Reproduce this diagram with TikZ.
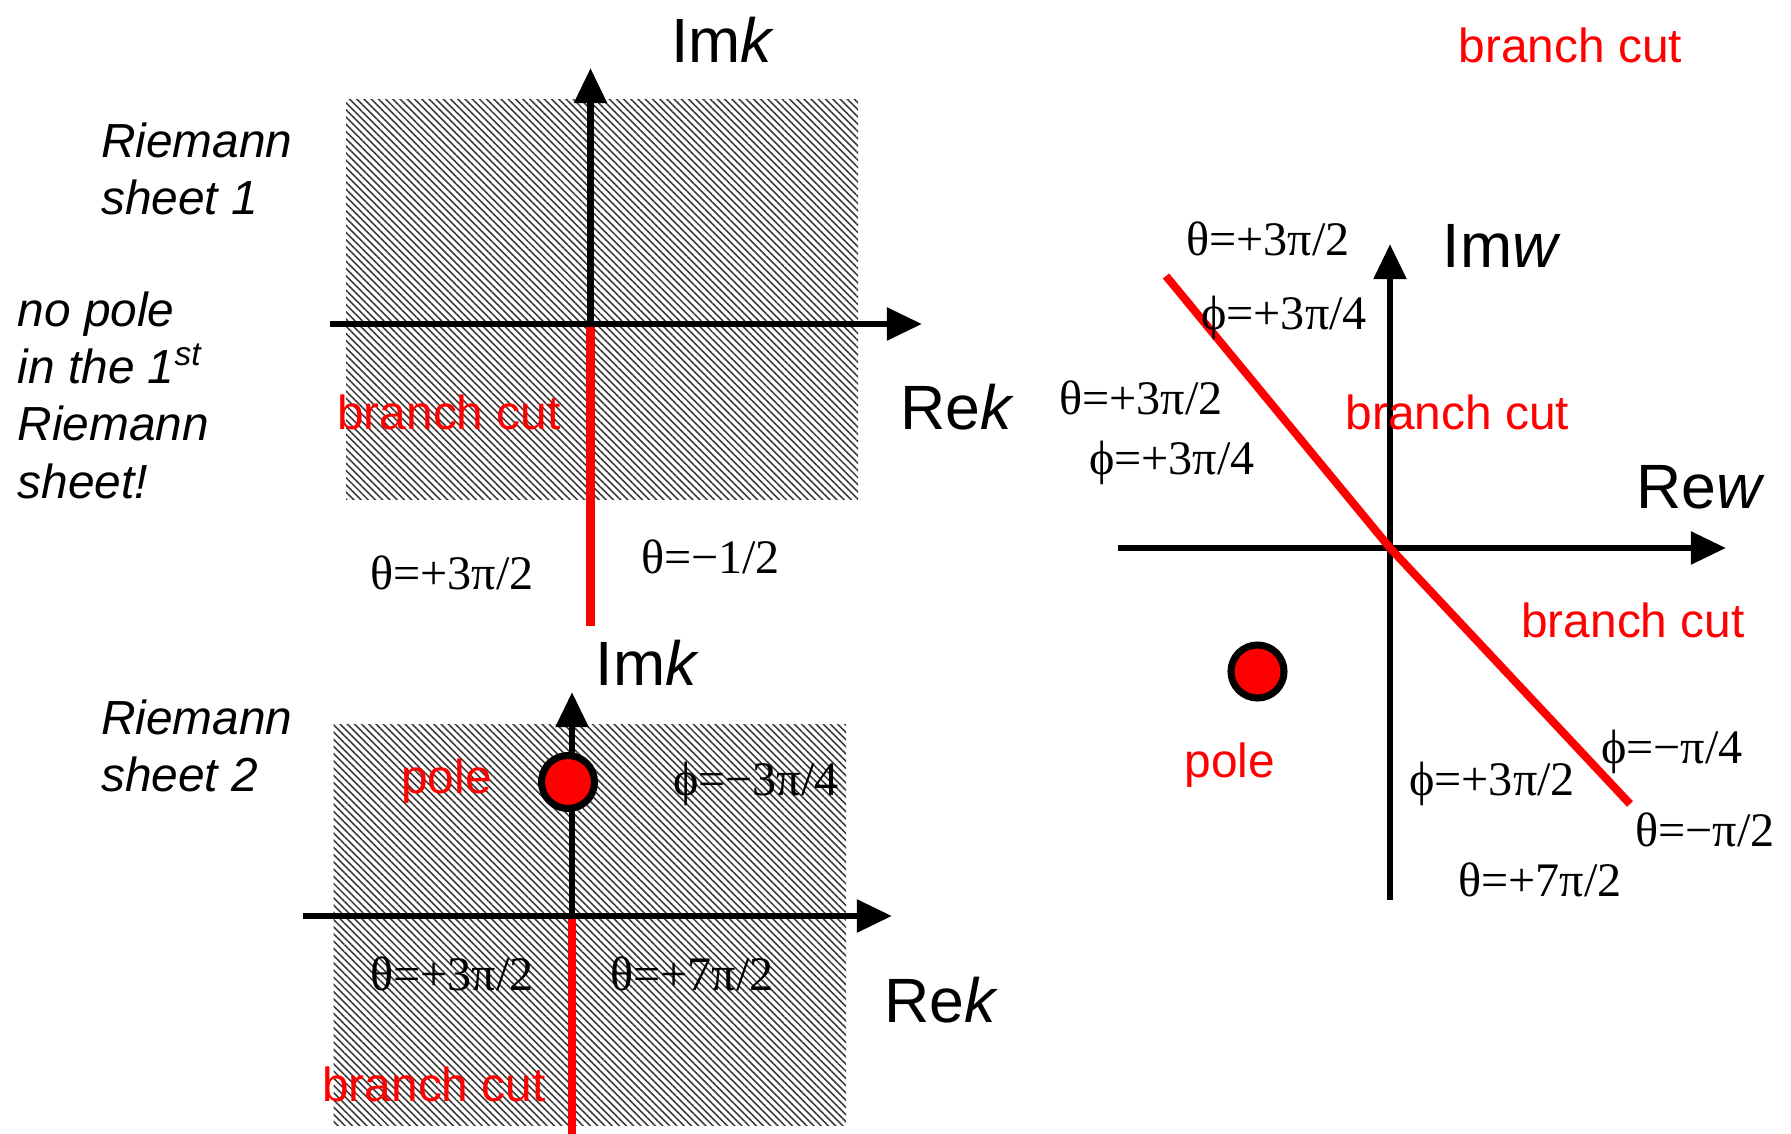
\documentclass[tikz,border=0pt]{standalone}
\usepackage{fontspec}
\setmainfont{Liberation Sans}
\newfontfamily\tnr{Liberation Serif}
\usepackage{tikz}
\usetikzlibrary{arrows.meta,patterns.meta}
\definecolor{CutRed}{HTML}{FF0000}
\definecolor{HatchInk}{HTML}{3C3C3C}

\begin{document}
\begin{tikzpicture}[x=0.01cm,y=-0.01cm,
  axis/.style={line width=1.9pt,-{Triangle[length=10pt,width=9pt]}},
  cut/.style={line width=2.3pt,draw=CutRed},
  hatch/.style={pattern={Lines[angle=-45,distance=1.45pt,line width=0.45pt]},pattern color=HatchInk},
  lbl/.style={inner sep=0pt,font=\fontsize{13.6}{16.3}\selectfont},
  cuttext/.style={lbl,text=CutRed},
  note/.style={inner sep=0pt,font=\fontsize{13.6}{16.3}\selectfont\itshape,align=left,anchor=west},
  axlbl/.style={inner sep=0pt,font=\fontsize{17.8}{21}\selectfont},
  ang/.style={inner sep=0pt,font=\fontsize{13.7}{16}\selectfont\tnr},
  polept/.style={circle,draw=black,fill=CutRed,line width=2pt,minimum size=0.53cm,inner sep=0pt}]
\useasboundingbox (0,0) rectangle (1791,1134);

% sheet 1
\fill[hatch] (346,100) rectangle (858,500);
\coordinate (k1o) at (590.5,324);
\coordinate (k1w) at (330,324);
\coordinate (k1e) at (922,324);
\coordinate (k1n) at (590.5,68);
\coordinate (k1s) at (590.5,626);
\draw[cut] (k1o) -- (k1s);
\draw[axis] (k1o) -- (k1n);
\draw[axis] (k1w) -- (k1e);
\node[axlbl] (im1) at (723,40) {Im\textit{k}};
\node[axlbl] (re1) at (957,407) {Re\textit{k}};
\node[cuttext] (cut1) at (449,412) {branch cut};
\node[ang] (th1a) at (452,573) {θ=+3π/2};
\node[ang] (th1b) at (710.5,557) {θ=−1/2};
\node[note] (sh1) at (100.5,169) {Riemann\\sheet 1};
\node[note] (nopole) at (17,395) {no pole\\in the 1\textsuperscript{st}\\Riemann\\sheet!};

% sheet 2
\fill[hatch] (333.5,724) rectangle (846,1125);
\coordinate (k2o) at (572,916);
\coordinate (k2w) at (302.7,916);
\coordinate (k2e) at (892,916);
\coordinate (k2n) at (572,692);
\coordinate (k2s) at (572,1134);
\draw[cut] (k2o) -- (k2s);
\draw[axis] (k2o) -- (k2n);
\draw[axis] (k2w) -- (k2e);
\node[polept] (pole2) at (568,782) {};
\node[axlbl] (im2) at (647.6,662.5) {Im\textit{k}};
\node[axlbl] (re2) at (941,1000.6) {Re\textit{k}};
\node[cuttext] (poletxt2) at (446.6,781) {pole};
\node[ang] (ph2) at (756,783.6) {ϕ=−3π/4};
\node[ang] (th2a) at (452,974) {θ=+3π/2};
\node[ang] (th2b) at (692,974) {θ=+7π/2};
\node[cuttext] (cut2) at (434,1084) {branch cut};
\node[note] (sh2) at (100.5,746) {Riemann\\sheet 2};

% w plane
\coordinate (wo) at (1390,548);
\coordinate (ww) at (1118,548);
\coordinate (we) at (1726,548);
\coordinate (wn) at (1390,244);
\coordinate (ws) at (1390,900);
\coordinate (cutnw) at (1166,276);
\coordinate (cutse) at (1630,804);
\draw[axis] (ws) -- (wn);
\draw[axis] (ww) -- (we);
\draw[cut] (wo) -- (cutnw);
\draw[cut] (wo) -- (cutse);
\node[polept] (polew) at (1257.5,671.5) {};
\node[axlbl] (imw) at (1502,245.6) {Im\textit{w}};
\node[axlbl] (rew) at (1701,487.7) {Re\textit{w}};
\node[cuttext] (cutw1) at (1570.5,45.7) {branch cut};
\node[cuttext] (cutw2) at (1457.5,412) {branch cut};
\node[cuttext] (cutw3) at (1633,620) {branch cut};
\node[cuttext] (poletxtw) at (1230,765) {pole};
\node[ang] (thw1) at (1268,238.7) {θ=+3π/2};
\node[ang] (phw1) at (1284,317.5) {ϕ=+3π/4};
\node[ang] (thw2) at (1141,397.5) {θ=+3π/2};
\node[ang] (phw2) at (1172,462.6) {ϕ=+3π/4};
\node[ang] (phw3) at (1492,783.5) {ϕ=+3π/2};
\node[ang] (phw4) at (1672,751.6) {ϕ=−π/4};
\node[ang] (thw3) at (1705,830) {θ=−π/2};
\node[ang] (thw4) at (1540,879.5) {θ=+7π/2};
\end{tikzpicture}
\end{document}
